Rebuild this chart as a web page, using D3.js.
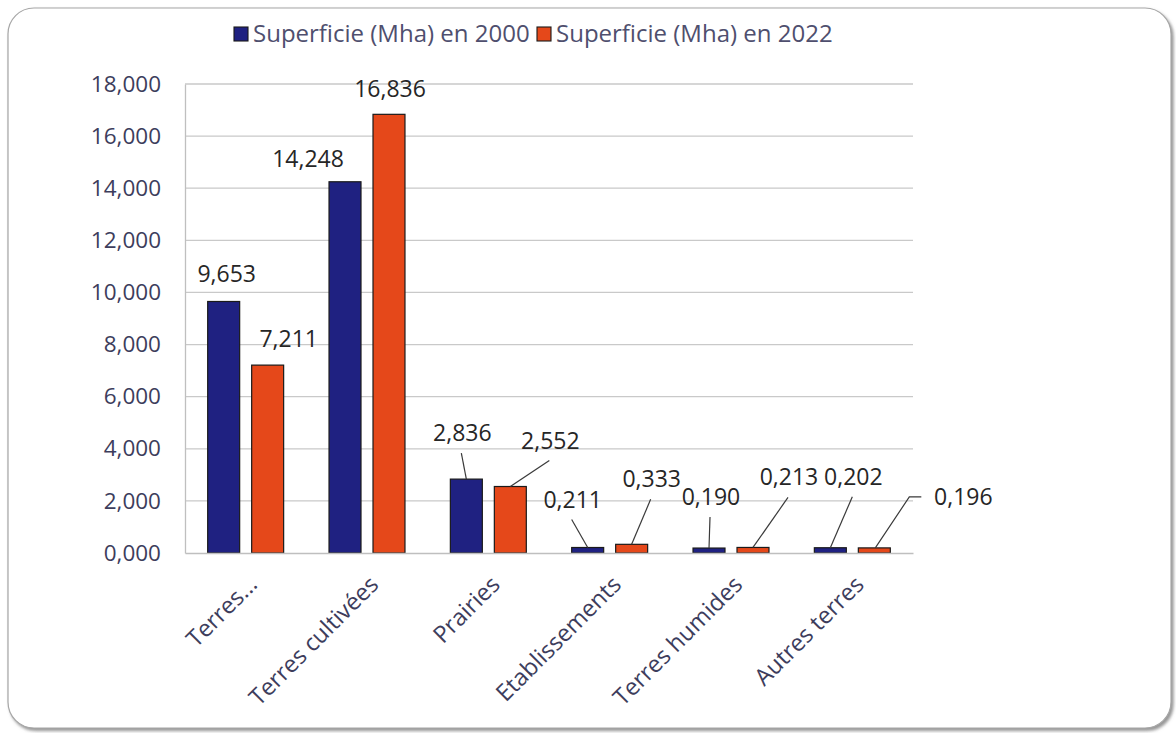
<!DOCTYPE html>
<html>
<head>
<meta charset="utf-8">
<script src="https://cdn.jsdelivr.net/npm/d3@7"></script>
<style>
  html, body { margin: 0; padding: 0; background: #ffffff; }
  svg { display: block; }
  text { font-family: "Open Sans", "Noto Sans", sans-serif; }
</style>
</head>
<body>
<svg id="chart" width="1176" height="733"></svg>
<script>
// Land-use categories
const categories = ["Terres...", "Terres cultivées", "Prairies", "Etablissements", "Terres humides", "Autres terres"];
// Series names
const seriesNames = ["Superficie (Mha) en 2000", "Superficie (Mha) en 2022"];
// Area in Mha
const values2000 = [9.653, 14.248, 2.836, 0.211, 0.190, 0.202];
const values2022 = [7.211, 16.836, 2.552, 0.333, 0.213, 0.196];
// Y axis ticks
const yTicks = [0, 2, 4, 6, 8, 10, 12, 14, 16, 18];

// Placement of each value label relative to its bar top: [dx, dy, leader]
// leader: 0 none, 1 straight line to label, 2 line with a short horizontal hook to label's left
const labelLayout2000 = [[3, -19, 0], [-37, -15, 0], [-4, -38, 1], [-15, -40, 1], [2, -43, 1], [23, -63, 1]];
const labelLayout2022 = [[21, -18, 0], [1, -17, 0], [40, -38, 1], [20, -57, 1], [36, -62, 1], [89, -43, 2]];

const colors = ["#1f2181", "#e5481a"];

const W = 1176, H = 733;
const margin = { left: 185, right: W - 913, top: 84, bottom: H - 553 };

const svg = d3.select("#chart");

// Outer frame with a soft shadow
const defs = svg.append("defs");
const f = defs.append("filter").attr("id", "shadow").attr("x", "-5%").attr("y", "-5%").attr("width", "110%").attr("height", "110%");
f.append("feDropShadow").attr("dx", 2).attr("dy", 2.5).attr("stdDeviation", 1.5).attr("flood-color", "#7a7a7a").attr("flood-opacity", 0.8);

svg.append("rect")
  .attr("x", 8).attr("y", 8).attr("width", 1163).attr("height", 720)
  .attr("rx", 26).attr("ry", 26)
  .attr("fill", "#ffffff").attr("stroke", "#a6a6a6").attr("stroke-width", 1.2)
  .attr("filter", "url(#shadow)");

const x0 = d3.scaleBand().domain(categories)
  .range([margin.left, W - margin.right])
  .paddingInner(0.374).paddingOuter(0.187);
const x1 = d3.scaleBand().domain([0, 1]).range([0, x0.bandwidth()]).paddingInner(0.273);
const y = d3.scaleLinear().domain([0, 18]).range([H - margin.bottom, margin.top]);

const locale = d3.formatLocale({ decimal: ",", thousands: " ", grouping: [3], currency: ["", "€"] });
const fmt = locale.format(".3f");

// Gridlines
svg.append("g")
  .selectAll("line").data(yTicks.filter(d => d > 0)).join("line")
  .attr("x1", margin.left).attr("x2", W - margin.right)
  .attr("y1", d => y(d)).attr("y2", d => y(d))
  .attr("stroke", "#c9c9c9").attr("stroke-width", 1.3);

// Y axis
const yAxis = svg.append("g")
  .attr("transform", `translate(${margin.left},0)`)
  .call(d3.axisLeft(y).tickValues(yTicks).tickFormat(fmt).tickSize(0).tickPadding(24));
yAxis.select(".domain").attr("stroke", "#bfbfbf").attr("stroke-width", 1.3);
yAxis.selectAll("text")
  .attr("font-size", 22.5).attr("fill", "#3d3d5c")
  .attr("font-family", "'Open Sans', sans-serif");

// Bars
const series = [values2000, values2022];
const layouts = [labelLayout2000, labelLayout2022];
const barG = svg.append("g");
series.forEach((vals, s) => {
  barG.selectAll(null).data(vals).join("rect")
    .attr("x", (d, i) => x0(categories[i]) + x1(s))
    .attr("width", x1.bandwidth())
    .attr("y", d => y(d))
    .attr("height", d => y(0) - y(d))
    .attr("fill", colors[s])
    .attr("stroke", "#1a1a1a").attr("stroke-width", 1.2);
});

// X axis baseline
const xAxis = svg.append("g")
  .attr("transform", `translate(0,${y(0)})`)
  .call(d3.axisBottom(x0).tickSize(0).tickFormat(""));
xAxis.select(".domain").attr("stroke", "#bfbfbf").attr("stroke-width", 1.3);

// Rotated category labels
svg.append("g").selectAll("text").data(categories).join("text")
  .attr("transform", d => `translate(${x0(d) + x0.bandwidth() / 2 + 13},${y(0) + 33}) rotate(-45)`)
  .attr("text-anchor", "end")
  .attr("font-size", 23.5).attr("fill", "#3d3d5c")
  .text(d => d);

// Value labels and leader lines
const labelG = svg.append("g");
series.forEach((vals, s) => {
  vals.forEach((v, i) => {
    const bx = x0(categories[i]) + x1(s) + x1.bandwidth() / 2;
    const by = y(v);
    const [dx, dy, leader] = layouts[s][i];
    const lx = bx + dx, ly = by + dy;
    labelG.append("text")
      .attr("x", lx).attr("y", ly)
      .attr("text-anchor", "middle")
      .attr("font-size", 23).attr("fill", "#262626")
      .text(fmt(v));
    if (leader === 1) {
      labelG.append("line")
        .attr("x1", lx - 1).attr("y1", ly + 12)
        .attr("x2", bx).attr("y2", by)
        .attr("stroke", "#3a3a3a").attr("stroke-width", 1.2);
    } else if (leader === 2) {
      const left = lx - 42;
      labelG.append("path")
        .attr("d", `M${left},${ly - 8}H${left - 12}L${bx + 1},${by}`)
        .attr("fill", "none").attr("stroke", "#3a3a3a").attr("stroke-width", 1.2);
    }
  });
});

// Legend
const legend = svg.append("g");
const legendX = [234, 537];
seriesNames.forEach((name, s) => {
  legend.append("rect")
    .attr("x", legendX[s]).attr("y", 27).attr("width", 14).attr("height", 14)
    .attr("fill", colors[s]).attr("stroke", "#1a1a1a").attr("stroke-width", 1.1);
  legend.append("text")
    .attr("x", legendX[s] + 19).attr("y", 42)
    .attr("font-size", 24).attr("fill", "#4f4f6e")
    .text(name);
});
</script>
</body>
</html>
